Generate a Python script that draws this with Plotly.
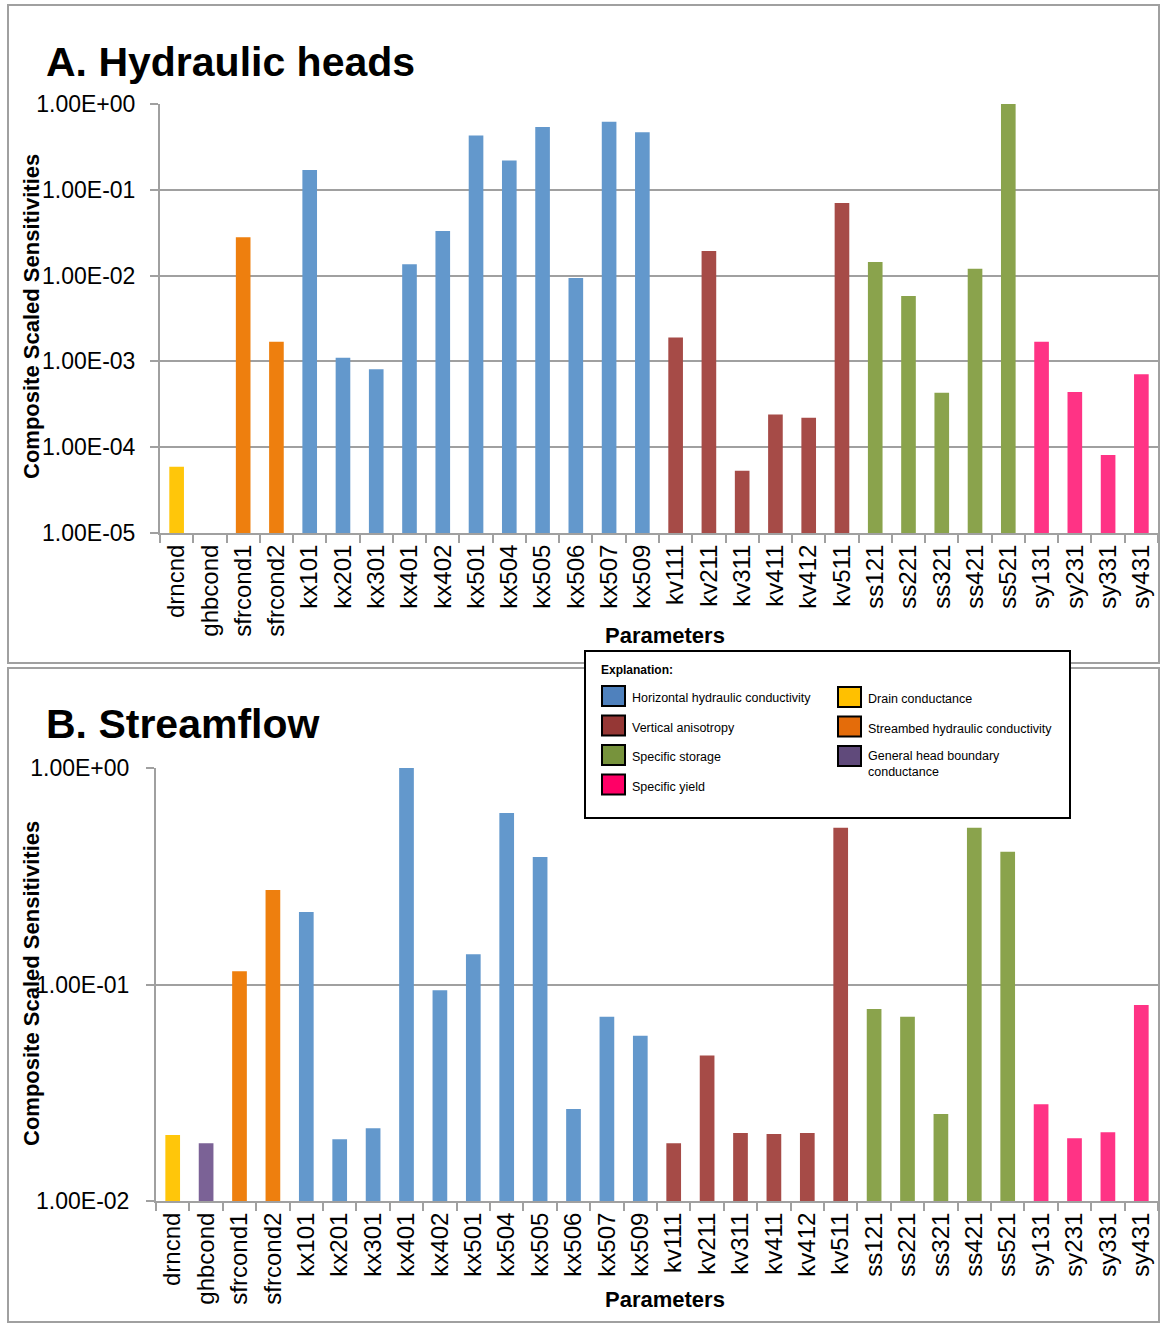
import plotly.graph_objects as go

W, H = 1160, 1323

params = ["drncnd", "ghbcond", "sfrcond1", "sfrcond2", "kx101", "kx201", "kx301", "kx401",
          "kx402", "kx501", "kx504", "kx505", "kx506", "kx507", "kx509", "kv111", "kv211",
          "kv311", "kv411", "kv412", "kv511", "ss121", "ss221", "ss321", "ss421", "ss521",
          "sy131", "sy231", "sy331", "sy431"]

groups = ["drn", "ghb", "sfr", "sfr", "kx", "kx", "kx", "kx", "kx", "kx", "kx", "kx", "kx",
          "kx", "kx", "kv", "kv", "kv", "kv", "kv", "kv", "ss", "ss", "ss", "ss", "ss",
          "sy", "sy", "sy", "sy"]

heads = [5.9e-5, None, 0.028, 0.0017, 0.17, 0.0011, 0.00081, 0.0136,
         0.033, 0.43, 0.22, 0.54, 0.0094, 0.62, 0.47, 0.0019, 0.0194,
         5.3e-5, 0.00024, 0.00022, 0.070, 0.0144, 0.0058, 0.00043, 0.012, 1.0,
         0.0017, 0.00044, 8.1e-5, 0.00071]

streamflow = [0.0202, 0.0185, 0.115, 0.273, 0.216, 0.0193, 0.0217, 1.0,
              0.094, 0.138, 0.62, 0.388, 0.0266, 0.071, 0.058, 0.0185, 0.047,
              0.0206, 0.0204, 0.0206, 0.53, 0.077, 0.071, 0.0252, 0.53, 0.41,
              0.028, 0.0195, 0.0208, 0.0805]

heads_ticks = [1e-5, 1e-4, 1e-3, 1e-2, 1e-1, 1e0]
heads_ticktext = ["1.00E-05", "1.00E-04", "1.00E-03", "1.00E-02", "1.00E-01", "1.00E+00"]
flow_ticks = [1e-2, 1e-1, 1e0]
flow_ticktext = ["1.00E-02", "1.00E-01", "1.00E+00"]

legend_left = [("kx", "Horizontal hydraulic conductivity"), ("kv", "Vertical anisotropy"),
               ("ss", "Specific storage"), ("sy", "Specific yield")]
legend_right = [("drn", "Drain conductance"), ("sfr", "Streambed hydraulic conductivity"),
                ("ghb", "General head boundary<br>conductance")]

bar_colors = {"drn": "#FFC60A", "ghb": "#7B6296", "sfr": "#EE7F0E", "kx": "#6398CC",
              "kv": "#A64B47", "ss": "#8AA34C", "sy": "#FF3385"}
swatch_colors = {"drn": "#FFC000", "ghb": "#604A7B", "sfr": "#E46C0A", "kx": "#4F81BD",
                 "kv": "#953735", "ss": "#77933C", "sy": "#FF0066"}

FONT = "Liberation Sans"
GRID = "#A0A0A0"


def px(x):
    return x / W


def py(y):
    return 1 - y / H


fig = go.Figure()
fig.add_trace(go.Bar(x=params, y=heads, marker=dict(color=[bar_colors[g] for g in groups], line_width=0),
                     xaxis="x", yaxis="y", showlegend=False))
fig.add_trace(go.Bar(x=params, y=streamflow, marker=dict(color=[bar_colors[g] for g in groups], line_width=0),
                     xaxis="x2", yaxis="y2", showlegend=False))

xcommon = dict(type="category", tickangle=-90, tickson="boundaries", ticks="outside", ticklen=8,
               tickcolor=GRID, tickwidth=2, showline=True, linecolor=GRID, linewidth=2,
               showgrid=False, tickfont=dict(family=FONT, size=24, color="black"),
               categoryorder="array", categoryarray=params)
ycommon = dict(type="log", ticks="outside", ticklen=8, tickcolor=GRID, tickwidth=2,
               showline=True, linecolor=GRID, linewidth=2, showgrid=True, gridcolor=GRID,
               gridwidth=2, tickfont=dict(family=FONT, size=23, color="black"),
               tickmode="array", zeroline=False)

fig.update_layout(
    width=W, height=H, margin=dict(l=0, r=0, t=0, b=0, autoexpand=False),
    paper_bgcolor="white", plot_bgcolor="white", bargap=0.56,
    xaxis=dict(domain=[px(160), px(1158)], anchor="y", **xcommon),
    yaxis=dict(domain=[py(533), py(104)], anchor="x", range=[-5, 0],
               tickvals=heads_ticks, ticktext=heads_ticktext, ticklabelstandoff=10, **ycommon),
    xaxis2=dict(domain=[px(156), px(1158)], anchor="y2", **xcommon),
    yaxis2=dict(domain=[py(1201), py(768)], anchor="x2", range=[-2, 0],
                tickvals=flow_ticks, ticktext=flow_ticktext, ticklabelstandoff=12, **ycommon),
)

shapes = [
    dict(type="rect", xref="paper", yref="paper", x0=px(8), x1=px(1159), y0=py(663), y1=py(5),
         line=dict(color=GRID, width=2), layer="below"),
    dict(type="rect", xref="paper", yref="paper", x0=px(8), x1=px(1159), y0=py(1322), y1=py(668),
         line=dict(color=GRID, width=2), layer="below"),
    dict(type="rect", xref="paper", yref="paper", x0=px(585), x1=px(1070), y0=py(818), y1=py(651),
         line=dict(color="black", width=2), fillcolor="white", layer="above"),
]

annotations = []


def ann(text, x, y, size, bold=False, xanchor="center", angle=0, yanchor="middle"):
    annotations.append(dict(text=f"<b>{text}</b>" if bold else text, x=px(x), y=py(y),
                            xref="paper", yref="paper", showarrow=False, xanchor=xanchor,
                            yanchor=yanchor, textangle=angle, align="left",
                            font=dict(family=FONT, size=size, color="black")))


ann("A. Hydraulic heads", 44, 62, 41, bold=True, xanchor="left")
ann("B. Streamflow", 44, 724, 41, bold=True, xanchor="left")
ann("Composite Scaled Sensitivities", 31, 317, 22, bold=True, angle=-90)
ann("Composite Scaled Sensitivities", 31, 984, 22, bold=True, angle=-90)
ann("Parameters", 665, 635, 22, bold=True)
ann("Parameters", 665, 1299, 22, bold=True)
ann("Explanation:", 599, 670, 12, bold=True, xanchor="left")

for i, (g, label) in enumerate(legend_left):
    yc = 696 + i * 29.5
    shapes.append(dict(type="rect", xref="paper", yref="paper", x0=px(602), x1=px(625),
                       y0=py(yc + 10), y1=py(yc - 10), fillcolor=swatch_colors[g],
                       line=dict(color="black", width=2), layer="above"))
    ann(label, 630, yc + 2, 12.5, xanchor="left")

for i, (g, label) in enumerate(legend_right):
    yc = 697 + i * 29.5
    shapes.append(dict(type="rect", xref="paper", yref="paper", x0=px(838), x1=px(861),
                       y0=py(yc + 10), y1=py(yc - 10), fillcolor=swatch_colors[g],
                       line=dict(color="black", width=2), layer="above"))
    if "<br>" in label:
        ann(label, 866, yc - 9, 12.5, xanchor="left", yanchor="top")
    else:
        ann(label, 866, yc + 2, 12.5, xanchor="left")

fig.update_layout(shapes=shapes, annotations=annotations)
fig.write_html("out.html", config={"displayModeBar": False},
               post_script="document.body.style.margin='0';document.body.style.overflow='hidden';")
